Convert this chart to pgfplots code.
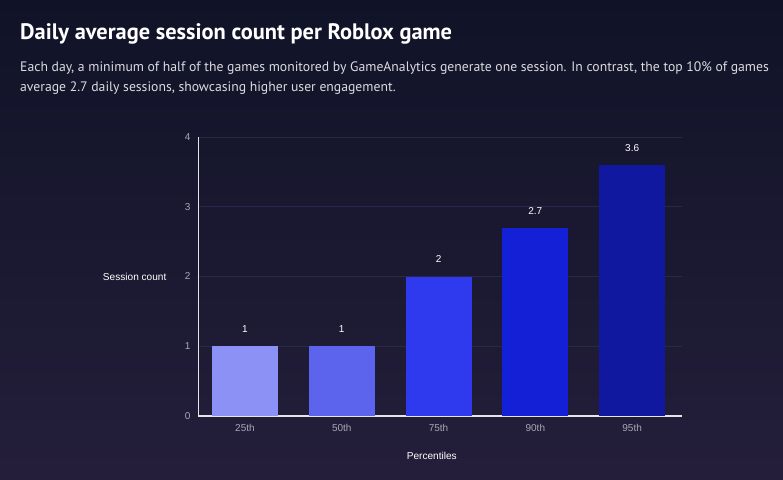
\documentclass[border=0pt]{standalone}
\usepackage{pgfplots}
\pgfplotsset{compat=1.18}
\usepackage{fontspec}
\setmainfont{PT Sans}
\newfontfamily\chartfont{Liberation Sans}

\definecolor{bgtop}{RGB}{16,19,40}
\definecolor{bgbot}{RGB}{36,30,58}
\definecolor{gridc}{RGB}{38,42,72}
\definecolor{tickc}{RGB}{165,168,182}
\definecolor{barA}{RGB}{140,145,245}
\definecolor{barB}{RGB}{92,100,238}
\definecolor{barC}{RGB}{47,58,238}
\definecolor{barD}{RGB}{20,32,214}
\definecolor{barE}{RGB}{16,24,160}

\begin{document}
\begin{tikzpicture}
  \shade[top color=bgtop, bottom color=bgbot] (0,0) rectangle (783pt,479pt);
  \node[anchor=base west, text=white, inner sep=0pt, font=\fontsize{22.4}{26}\selectfont\bfseries]
    at (20pt,439pt) {Daily average session count per Roblox game};
  \node[anchor=base west, text=white!85!bgtop, inner sep=0pt, font=\fontsize{13.7}{16}\selectfont]
    at (20pt,407pt) {Each day, a minimum of half of the games monitored by GameAnalytics generate one session. In contrast, the top 10\% of games};
  \node[anchor=base west, text=white!85!bgtop, inner sep=0pt, font=\fontsize{13.7}{16}\selectfont]
    at (20pt,387pt) {average 2.7 daily sessions, showcasing higher user engagement.};

  \begin{axis}[
    at={(198pt,63pt)}, anchor=south west,
    scale only axis, width=484pt, height=279pt,
    ybar, bar width=66pt,
    xmin=-0.485, xmax=4.515,
    ymin=0, ymax=4,
    ytick={0,1,2,3,4},
    xtick={0,1,2,3,4},
    xticklabels={25th,50th,75th,90th,95th},
    axis x line*=bottom, axis y line*=left,
    x axis line style={draw=white!80!gray, line width=1.6pt, -},
    y axis line style={draw=white!80!gray, line width=0.8pt, -},
    major tick length=0pt,
    ymajorgrids, grid style={gridc, line width=0.6pt},
    /pgf/number format/assume math mode=true,
    ticklabel style={font=\chartfont\fontsize{10}{12}\selectfont, text=tickc},
    yticklabel style={xshift=-4pt},
    xticklabel style={yshift=-5pt},
    xlabel={Percentiles}, ylabel={Session count},
    label style={font=\chartfont\fontsize{10.1}{12}\selectfont, text=white},
    xlabel style={at={(axis description cs:0.483,-0.143)}, anchor=center},
    ylabel style={at={(axis description cs:-0.058,0.5)}, rotate=-90, anchor=east},
    nodes near coords,
    every node near coord/.append style={font=\chartfont\fontsize{10}{12}\selectfont, text=white, yshift=10pt},
  ]
    \addplot[fill=barA, draw=none, bar shift=0pt] coordinates {(0,1)};
    \addplot[fill=barB, draw=none, bar shift=0pt] coordinates {(1,1)};
    \addplot[fill=barC, draw=none, bar shift=0pt] coordinates {(2,2)};
    \addplot[fill=barD, draw=none, bar shift=0pt] coordinates {(3,2.7)};
    \addplot[fill=barE, draw=none, bar shift=0pt] coordinates {(4,3.6)};
  \end{axis}
\end{tikzpicture}
\end{document}
